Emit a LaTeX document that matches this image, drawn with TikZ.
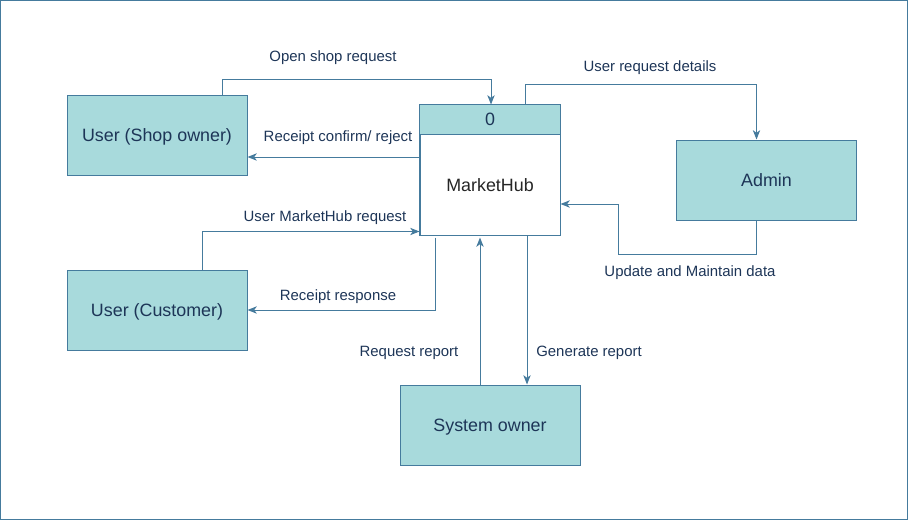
\documentclass[tikz,border=0pt]{standalone}
\usepackage{fontspec}
\setmainfont{Liberation Sans}
\usetikzlibrary{arrows.meta,calc}
\definecolor{ln}{HTML}{457B9D}
\definecolor{fl}{HTML}{A8DADC}
\definecolor{tx}{HTML}{1D3557}
\begin{document}
\begin{tikzpicture}[x=0.75pt,y=-0.75pt,
  ent/.style={draw=ln,fill=fl,line width=0.75pt,minimum width=135pt,minimum height=60pt,inner sep=0pt,text=tx,font=\fontsize{13.4}{16}\selectfont,text depth=0pt,text height=9.6pt},
  lbl/.style={text=tx,font=\fontsize{11.2}{13}\selectfont,inner sep=0pt,text depth=0pt,text height=8pt},
  arr/.style={draw=ln,line width=0.75pt,-{Stealth[length=7pt,width=5.5pt,inset=2pt]}}]
\useasboundingbox (0,0) rectangle (909,522);
\draw[ln,line width=1pt] (0.5,0.5) rectangle (907.5,519.5);
\node[ent] (shop) at (157,135) {User (Shop owner)};
\node[ent] (cust) at (157,310) {User (Customer)};
\node[ent] (admin) at (766.5,180) {Admin};
\node[ent] (sys) at (490,425) {System owner};
\node[draw=ln,fill=white,line width=0.75pt,minimum width=105pt,minimum height=97.5pt,inner sep=0pt] (hub) at (490,170) {};
\fill[fl] (hub.north west) rectangle ($(hub.north east)+(0,30)$);
\draw[ln,line width=0.75pt] (hub.north west) rectangle (hub.south east);
\draw[ln,line width=0.75pt] ($(hub.north west)+(0,30)$) -- ($(hub.north east)+(0,30)$);
\node[text=tx,font=\fontsize{13.4}{16}\selectfont,text depth=0pt,text height=9.6pt,inner sep=0pt] (num) at ($(hub.north)+(0,15)$) {0};
\node[font=\fontsize{13.4}{16}\selectfont,text=black!85,text depth=0pt,text height=9.6pt,inner sep=0pt] (hubt) at ($(hub.center)+(0,15)$) {MarketHub};
% connectors
\draw[arr] ($(shop.north)+(65,0)$) -- ++(0,-15) -| ($(hub.north)+(1,0)$);
\coordinate (rc) at ($(hub.west)+(0,-13)$);
\draw[arr] (rc) -- (shop.east |- rc);
\coordinate (um) at ($(hub.south west)+(0,-4)$);
\draw[arr] ($(cust.north)+(45,0)$) |- (um);
\draw[arr] ($(hub.south west)+(16,2)$) |- (cust.east);
\draw[arr] ($(sys.north)+(-10,0)$) -- ($(hub.south)+(-10,2)$);
\draw[arr] ($(hub.south)+(37,0)$) -- ($(sys.north)+(37,0)$);
\draw[arr] ($(hub.north)+(35,0)$) -- ++(0,-20) -| ($(admin.north)+(-10,0)$);
\coordinate (up) at ($(hub.east)+(0,34)$);
\draw[arr] ($(admin.south)+(-10,0)$) -- ++(0,34) -- ++(-138,0) |- (up);
% labels
\node[lbl] (l1) at (333,56) {Open shop request};
\node[lbl] (l2) at (338,136) {Receipt confirm/ reject};
\node[lbl] (l3) at (325,216) {User MarketHub request};
\node[lbl] (l4) at (338,295) {Receipt response};
\node[lbl] (l5) at (409,351) {Request report};
\node[lbl] (l6) at (589,351) {Generate report};
\node[lbl] (l7) at (650,66) {User request details};
\node[lbl] (l8) at (690,271) {Update and Maintain data};
\end{tikzpicture}
\end{document}
